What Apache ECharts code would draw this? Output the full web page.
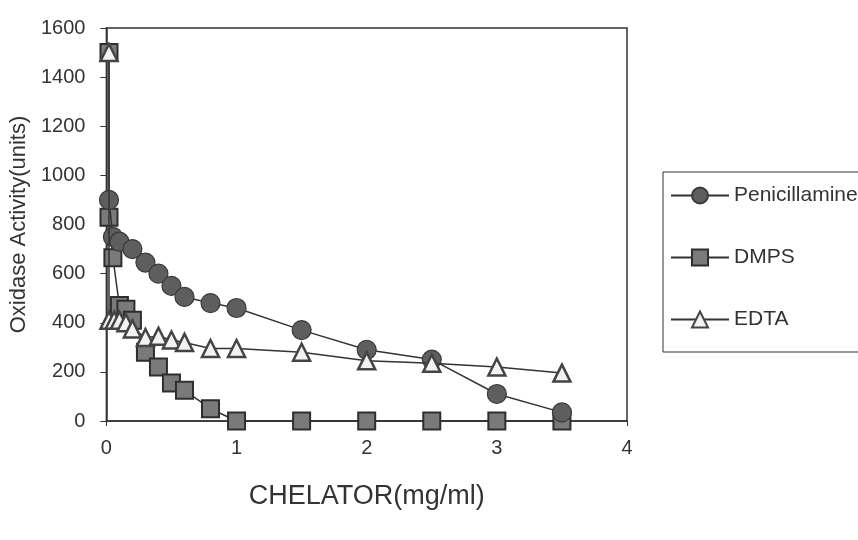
<!DOCTYPE html>
<html>
<head>
<meta charset="utf-8">
<script src="https://cdn.jsdelivr.net/npm/echarts@6/dist/echarts.min.js"></script>
<style>
html,body{margin:0;padding:0;background:#fff;}
#chart{width:858px;height:540px;}
</style>
</head>
<body>
<div id="chart"></div>
<script>
// Data (x = chelator mg/ml, y = oxidase activity units)
var penicillamineX = [0.02, 0.05, 0.1, 0.2, 0.3, 0.4, 0.5, 0.6, 0.8, 1.0, 1.5, 2.0, 2.5, 3.0, 3.5];
var penicillamineY = [900, 750, 730, 700, 645, 600, 550, 505, 480, 460, 370, 290, 250, 110, 35];

var dmpsX = [0.02, 0.02, 0.05, 0.1, 0.15, 0.2, 0.3, 0.4, 0.5, 0.6, 0.8, 1.0, 1.5, 2.0, 2.5, 3.0, 3.5];
var dmpsY = [1500, 830, 665, 470, 455, 410, 280, 220, 155, 125, 50, 0, 0, 0, 0, 0, 0];

var edtaX = [0.02, 0.02, 0.06, 0.1, 0.15, 0.2, 0.3, 0.4, 0.5, 0.6, 0.8, 1.0, 1.5, 2.0, 2.5, 3.0, 3.5];
var edtaY = [1500, 410, 410, 410, 400, 375, 340, 345, 330, 320, 295, 295, 280, 245, 235, 220, 195];

var seriesNames = ['Penicillamine', 'DMPS', 'EDTA'];
var xTicks = [0, 1, 2, 3, 4];
var yTicks = [0, 200, 400, 600, 800, 1000, 1200, 1400, 1600];

function pairs(xs, ys) { return xs.map(function (x, i) { return [x, ys[i]]; }); }

var chart = echarts.init(document.getElementById('chart'), null, {renderer: 'canvas'});
var font = 'Liberation Sans, Arial, sans-serif';
var ink = '#333';

chart.setOption({
  backgroundColor: '#fff',
  animation: false,
  textStyle: {fontFamily: font, color: ink},
  grid: {left: 105, right: 231, top: 28, bottom: 119, show: true, borderColor: ink, borderWidth: 1.5, backgroundColor: 'transparent'},
  legend: {
    orient: 'vertical',
    left: 663, top: 172,
    padding: [13, 30, 22, 7],
    itemGap: 41,
    itemWidth: 58, itemHeight: 20,
    borderColor: ink, borderWidth: 1,
    textStyle: {fontFamily: font, fontSize: 21, color: ink},
    data: seriesNames
  },
  xAxis: {
    type: 'value', min: xTicks[0], max: xTicks[xTicks.length - 1], interval: 1,
    name: 'CHELATOR(mg/ml)', nameLocation: 'middle', nameGap: 62,
    nameTextStyle: {fontFamily: font, fontSize: 27, color: ink},
    axisLine: {show: true, lineStyle: {color: ink, width: 1.5}},
    axisTick: {show: true, inside: false, length: 5, lineStyle: {color: ink}},
    axisLabel: {fontFamily: font, fontSize: 20, color: ink, margin: 17},
    splitLine: {show: false}
  },
  yAxis: {
    type: 'value', min: yTicks[0], max: yTicks[yTicks.length - 1], interval: 200,
    name: 'Oxidase Activity(units)', nameLocation: 'middle', nameGap: 70,
    nameTextStyle: {fontFamily: font, fontSize: 22, color: ink},
    axisLine: {show: true, lineStyle: {color: ink, width: 1.5}},
    axisTick: {show: true, inside: false, length: 6, lineStyle: {color: ink}},
    axisLabel: {fontFamily: font, fontSize: 20, color: ink, margin: 21, formatter: function (v) { return String(v); }},
    splitLine: {show: false}
  },
  series: [
    {
      name: seriesNames[0], type: 'line', data: pairs(penicillamineX, penicillamineY),
      symbol: 'circle', symbolSize: 19,
      lineStyle: {color: ink, width: 1.5},
      itemStyle: {color: '#5e5e5e', borderColor: '#3a3a3a', borderWidth: 1.2},
      z: 3
    },
    {
      name: seriesNames[1], type: 'line', data: pairs(dmpsX, dmpsY),
      symbol: 'rect', symbolSize: 17,
      lineStyle: {color: ink, width: 1.5},
      itemStyle: {color: '#7a7a7a', borderColor: '#2e2e2e', borderWidth: 2},
      z: 2
    },
    {
      name: seriesNames[2], type: 'line', data: pairs(edtaX, edtaY),
      symbol: 'triangle', symbolSize: 17,
      lineStyle: {color: ink, width: 1.5},
      itemStyle: {color: '#f2f2f2', borderColor: '#444', borderWidth: 2.5},
      z: 4
    }
  ]
});
</script>
</body>
</html>
